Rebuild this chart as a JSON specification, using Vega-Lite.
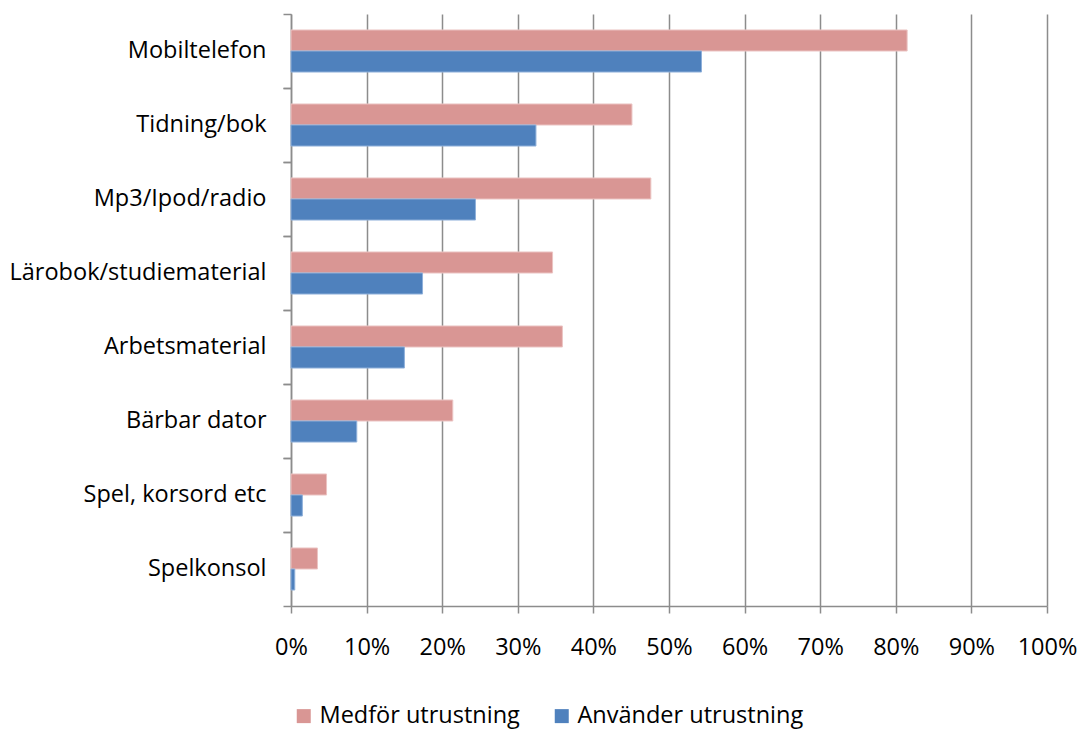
{
  "$schema": "https://vega.github.io/schema/vega-lite/v6.json",
  "width": 756,
  "height": 592,
  "autosize": {"type": "none"},
  "padding": {"left": 291, "top": 14, "right": 32, "bottom": 123},
  "background": "white",
  "config": {
    "view": {"stroke": null},
    "font": "Open Sans",
    "axis": {"labelFont": "Open Sans", "labelColor": "#000000", "title": null}
  },
  "data": {
    "values": [
      {"kategori": "Mobiltelefon", "serie": "Medför utrustning", "andel": 0.815},
      {"kategori": "Mobiltelefon", "serie": "Använder utrustning", "andel": 0.543},
      {"kategori": "Tidning/bok", "serie": "Medför utrustning", "andel": 0.451},
      {"kategori": "Tidning/bok", "serie": "Använder utrustning", "andel": 0.324},
      {"kategori": "Mp3/Ipod/radio", "serie": "Medför utrustning", "andel": 0.476},
      {"kategori": "Mp3/Ipod/radio", "serie": "Använder utrustning", "andel": 0.244},
      {"kategori": "Lärobok/studiematerial", "serie": "Medför utrustning", "andel": 0.346},
      {"kategori": "Lärobok/studiematerial", "serie": "Använder utrustning", "andel": 0.174},
      {"kategori": "Arbetsmaterial", "serie": "Medför utrustning", "andel": 0.359},
      {"kategori": "Arbetsmaterial", "serie": "Använder utrustning", "andel": 0.150},
      {"kategori": "Bärbar dator", "serie": "Medför utrustning", "andel": 0.214},
      {"kategori": "Bärbar dator", "serie": "Använder utrustning", "andel": 0.087},
      {"kategori": "Spel, korsord etc", "serie": "Medför utrustning", "andel": 0.047},
      {"kategori": "Spel, korsord etc", "serie": "Använder utrustning", "andel": 0.015},
      {"kategori": "Spelkonsol", "serie": "Medför utrustning", "andel": 0.035},
      {"kategori": "Spelkonsol", "serie": "Använder utrustning", "andel": 0.005}
    ]
  },
  "resolve": {"axis": {"y": "independent"}},
  "layer": [
    {
      "mark": {"type": "bar", "strokeWidth": 1},
      "encoding": {
        "y": {
          "field": "kategori", "type": "nominal", "sort": null,
          "scale": {"paddingInner": 0, "paddingOuter": 0},
          "axis": {"orient": "left", "ticks": false, "domain": false, "labelFontSize": 23.5, "labelPadding": 25, "labelLimit": 400}
        },
        "yOffset": {
          "field": "serie", "type": "nominal",
          "sort": ["Medför utrustning", "Använder utrustning"],
          "scale": {"paddingInner": 0, "paddingOuter": 0.76}
        },
        "x": {
          "field": "andel", "type": "quantitative",
          "scale": {"domain": [0, 1], "nice": false},
          "axis": {
            "format": ".0%",
            "values": [0, 0.1, 0.2, 0.3, 0.4, 0.5, 0.6, 0.7, 0.8, 0.9, 1],
            "grid": true, "gridColor": "#8c8c8c", "gridWidth": 1.5,
            "domainColor": "#8c8c8c", "domainWidth": 1.5,
            "tickColor": "#8c8c8c", "tickWidth": 1.5, "tickSize": 7,
            "labelFontSize": 23.5, "labelPadding": 22, "labelFlush": false
          }
        },
        "color": {
          "field": "serie", "type": "nominal",
          "scale": {"domain": ["Medför utrustning", "Använder utrustning"], "range": ["#d99694", "#4f81bd"]},
          "legend": {
            "title": null, "orient": "none", "direction": "horizontal",
            "legendX": 1, "legendY": 690, "padding": 0,
            "symbolType": "square", "symbolSize": 196, "symbolStrokeWidth": 0,
            "labelFontSize": 23.5, "labelOffset": 4, "labelLimit": 400,
            "columnPadding": 30, "labelColor": "#000000"
          }
        },
        "stroke": {
          "field": "serie", "type": "nominal",
          "scale": {"domain": ["Medför utrustning", "Använder utrustning"], "range": ["#ebc4c3", "#8fb0da"]},
          "legend": null
        }
      }
    },
    {
      "mark": {"type": "rule", "opacity": 0},
      "encoding": {
        "y": {
          "field": "kategori", "type": "nominal", "sort": null,
          "axis": {"orient": "left", "labels": false, "bandPosition": 0, "tickSize": 8, "tickColor": "#8c8c8c", "tickWidth": 1.5, "domainColor": "#8c8c8c", "domainWidth": 1.5}
        }
      }
    },
    {
      "mark": {"type": "rule", "opacity": 0},
      "encoding": {
        "y": {
          "field": "kategori", "type": "nominal", "sort": null,
          "axis": {"orient": "left", "labels": false, "bandPosition": 1, "domain": false, "tickSize": 8, "tickColor": "#8c8c8c", "tickWidth": 1.5}
        }
      }
    }
  ]
}
